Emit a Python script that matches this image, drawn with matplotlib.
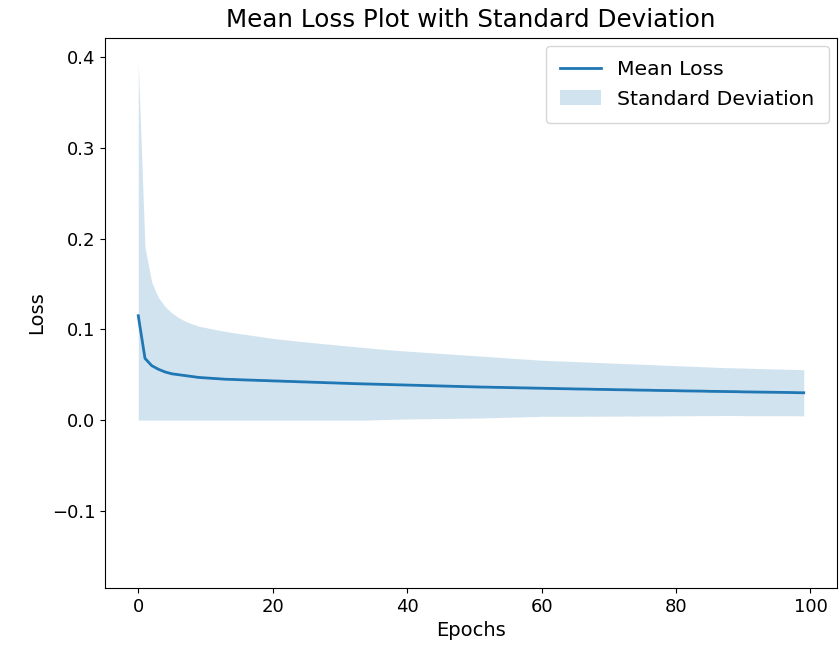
import matplotlib
matplotlib.use('Agg')
import matplotlib.pyplot as plt
import numpy as np

# per-epoch values
mean_loss = [
    0.115, 0.068, 0.060, 0.056, 0.053, 0.051, 0.050, 0.049, 0.048, 0.047,
    0.0465, 0.046, 0.0455, 0.045, 0.0448, 0.0445, 0.0442, 0.044, 0.0437, 0.0435,
    0.0432, 0.043, 0.0427, 0.0425, 0.0422, 0.042, 0.0417, 0.0415, 0.0412, 0.041,
    0.0407, 0.0405, 0.0402, 0.040, 0.0398, 0.0396, 0.0394, 0.0392, 0.039, 0.0388,
    0.0386, 0.0384, 0.0382, 0.038, 0.0378, 0.0376, 0.0374, 0.0372, 0.0370, 0.0368,
    0.0366, 0.0364, 0.0363, 0.0361, 0.0360, 0.0358, 0.0357, 0.0355, 0.0354, 0.0352,
    0.0351, 0.0349, 0.0348, 0.0346, 0.0345, 0.0343, 0.0342, 0.0341, 0.0339, 0.0338,
    0.0337, 0.0335, 0.0334, 0.0333, 0.0331, 0.0330, 0.0329, 0.0327, 0.0326, 0.0325,
    0.0324, 0.0322, 0.0321, 0.0320, 0.0319, 0.0317, 0.0316, 0.0315, 0.0314, 0.0313,
    0.0311, 0.0310, 0.0309, 0.0308, 0.0307, 0.0306, 0.0305, 0.0304, 0.0302, 0.0301,
]
upper_band = [
    0.3935, 0.190, 0.152, 0.135, 0.125, 0.118, 0.113, 0.109, 0.106, 0.1035,
    0.1020, 0.1005, 0.0990, 0.0977, 0.0965, 0.0954, 0.0944, 0.0933, 0.0922, 0.0911,
    0.0900, 0.0892, 0.0884, 0.0876, 0.0868, 0.0860, 0.0853, 0.0846, 0.0839, 0.0832,
    0.0825, 0.0818, 0.0811, 0.0804, 0.0797, 0.0790, 0.0783, 0.0777, 0.0771, 0.0765,
    0.0760, 0.0755, 0.0750, 0.0745, 0.0740, 0.0735, 0.0730, 0.0725, 0.0720, 0.0715,
    0.0710, 0.0705, 0.0700, 0.0695, 0.0690, 0.0685, 0.0680, 0.0675, 0.0670, 0.0665,
    0.0660, 0.0657, 0.0654, 0.0651, 0.0648, 0.0645, 0.0642, 0.0639, 0.0636, 0.0633,
    0.0630, 0.0627, 0.0624, 0.0621, 0.0618, 0.0615, 0.0612, 0.0609, 0.0606, 0.0603,
    0.0600, 0.0597, 0.0594, 0.0591, 0.0588, 0.0585, 0.0582, 0.0579, 0.0577, 0.0575,
    0.0573, 0.0571, 0.0569, 0.0567, 0.0565, 0.0563, 0.0561, 0.0559, 0.0557, 0.0555,
]

mean = np.array(mean_loss)
std = np.array(upper_band) - mean
epochs = np.arange(len(mean))
lower = np.clip(mean - std, 0, None)

plt.rcParams['font.size'] = 13

fig = plt.figure(figsize=(8.39, 6.57), dpi=100)
ax = fig.add_axes([105 / 839, 1 - 588 / 657, 732 / 839, 550 / 657])

ax.plot(epochs, mean, color='#1f77b4', linewidth=2, label='Mean Loss')
ax.fill_between(epochs, lower, mean + std, color='#1f77b4', alpha=0.2,
                linewidth=0, label='Standard Deviation')

ax.set_xlim(-4.95, 103.95)
ax.set_ylim(-0.185, 0.421)
ax.set_title('Mean Loss Plot with Standard Deviation', fontsize=17.7, pad=8)
ax.set_xlabel('Epochs', fontsize=14)
ax.set_ylabel('Loss', fontsize=14)
ax.legend(loc='upper right', fontsize=14.7, borderpad=0.7, borderaxespad=0.4)

fig.savefig('out.png', dpi=100)
